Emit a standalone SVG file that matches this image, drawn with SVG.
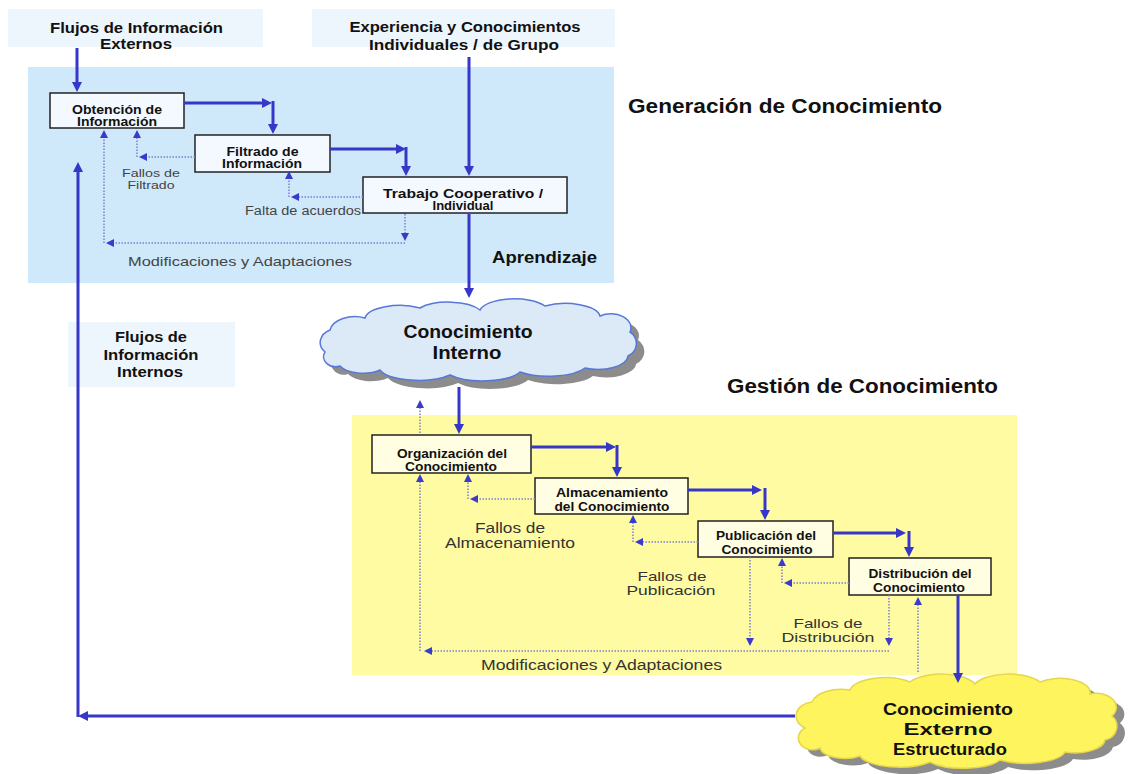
<svg xmlns="http://www.w3.org/2000/svg" width="1131" height="774" viewBox="0 0 1131 774">
<defs>
<style>
.t{font-family:"Liberation Sans",Arial,sans-serif;fill:#111}
.b{font-weight:bold}
.box{stroke:#222;stroke-width:1.5}
.bb{fill:#f4f9ff}
.yb{fill:#fffde2}
.hdr{fill:#eef6fd}
.sa{fill:none;stroke:#3636c8;stroke-width:3;marker-end:url(#ah)}
.da{fill:none;stroke:#7f7fd0;stroke-width:1.5;stroke-dasharray:1.5 1.5;marker-end:url(#dh)}
.g{fill:#444;font-family:"Liberation Sans",Arial,sans-serif}
.g2{fill:#333;font-family:"Liberation Sans",Arial,sans-serif}
</style>
<marker id="ah" viewBox="0 0 10 10" refX="4" refY="5" markerWidth="10" markerHeight="10" markerUnits="userSpaceOnUse" orient="auto"><path d="M0,0 L10,5 L0,10 z" fill="#3636c8"/></marker>
<marker id="dh" viewBox="0 0 8 8" refX="3" refY="4" markerWidth="8" markerHeight="8" markerUnits="userSpaceOnUse" orient="auto"><path d="M0,0 L8,4 L0,8 z" fill="#3a3acc"/></marker>
</defs>
<rect width="1131" height="774" fill="#fff"/>

<g id="regions">
<rect x="28" y="67" width="586" height="216" fill="#cfe9fa"/>
<rect x="352" y="415" width="665" height="260" fill="#fffba3"/>
</g>

<g id="hdr-externos">
<rect class="hdr" x="8" y="9" width="255" height="38"/>
<text class="t b" x="136.5" y="33" font-size="15" text-anchor="middle" textLength="173" lengthAdjust="spacingAndGlyphs">Flujos de Información</text>
<text class="t b" x="136" y="49" font-size="15" text-anchor="middle" textLength="72" lengthAdjust="spacingAndGlyphs">Externos</text>
</g>
<g id="hdr-experiencia">
<rect class="hdr" x="312" y="9" width="303" height="38"/>
<text class="t b" x="465" y="32" font-size="15" text-anchor="middle" textLength="231" lengthAdjust="spacingAndGlyphs">Experiencia y Conocimientos</text>
<text class="t b" x="464" y="50" font-size="15" text-anchor="middle" textLength="190" lengthAdjust="spacingAndGlyphs">Individuales / de Grupo</text>
</g>
<g id="hdr-internos">
<rect class="hdr" x="68" y="322" width="167" height="65"/>
<text class="t b" x="151" y="342" font-size="15" text-anchor="middle" textLength="72" lengthAdjust="spacingAndGlyphs">Flujos de</text>
<text class="t b" x="151" y="360" font-size="15" text-anchor="middle" textLength="95" lengthAdjust="spacingAndGlyphs">Información</text>
<text class="t b" x="150" y="377" font-size="15" text-anchor="middle" textLength="66" lengthAdjust="spacingAndGlyphs">Internos</text>
</g>

<g id="titles">
<text class="t b" x="628" y="113" font-size="20" textLength="314" lengthAdjust="spacingAndGlyphs">Generación de Conocimiento</text>
<text class="t b" x="492" y="263" font-size="17" textLength="105" lengthAdjust="spacingAndGlyphs">Aprendizaje</text>
<text class="t b" x="727" y="393" font-size="20" textLength="271" lengthAdjust="spacingAndGlyphs">Gestión de Conocimiento</text>
</g>

<g id="n-obtencion">
<rect class="box bb" x="50" y="93" width="134" height="35"/>
<text class="t b" x="117" y="114" font-size="12.5" text-anchor="middle" textLength="90" lengthAdjust="spacingAndGlyphs">Obtención de</text>
<text class="t b" x="117" y="126" font-size="12.5" text-anchor="middle" textLength="80" lengthAdjust="spacingAndGlyphs">Información</text>
</g>
<g id="n-filtrado">
<rect class="box bb" x="195" y="135" width="135" height="37"/>
<text class="t b" x="262.5" y="156" font-size="12.5" text-anchor="middle" textLength="72" lengthAdjust="spacingAndGlyphs">Filtrado de</text>
<text class="t b" x="262" y="168" font-size="12.5" text-anchor="middle" textLength="80" lengthAdjust="spacingAndGlyphs">Información</text>
</g>
<g id="n-trabajo">
<rect class="box bb" x="363" y="177" width="204" height="36"/>
<text class="t b" x="463" y="198" font-size="12.5" text-anchor="middle" textLength="160" lengthAdjust="spacingAndGlyphs">Trabajo Cooperativo /</text>
<text class="t b" x="463" y="210" font-size="12.5" text-anchor="middle" textLength="61" lengthAdjust="spacingAndGlyphs">Individual</text>
</g>

<g id="n-interno">
<path fill="#8c8c8c" transform="translate(8,8)" d="M325,352 A18,14 0 0 1 330,330 A25,16 0 0 1 365,318 A35,14 0 0 1 420,308 A35,14 0 0 1 480,310 A35,14 0 0 1 545,306 A35,14 0 0 1 600,316 A20,14 0 0 1 630,332 A15,14 0 0 1 628,356 A30,14 0 0 1 585,368 A40,14 0 0 1 520,372 A40,14 0 0 1 450,375 A40,14 0 0 1 380,370 A25,12 0 0 1 340,366 A12,10 0 0 1 325,352 Z"/>
<path fill="#dce9f6" stroke="#5878d8" stroke-width="1.5" d="M325,352 A18,14 0 0 1 330,330 A25,16 0 0 1 365,318 A35,14 0 0 1 420,308 A35,14 0 0 1 480,310 A35,14 0 0 1 545,306 A35,14 0 0 1 600,316 A20,14 0 0 1 630,332 A15,14 0 0 1 628,356 A30,14 0 0 1 585,368 A40,14 0 0 1 520,372 A40,14 0 0 1 450,375 A40,14 0 0 1 380,370 A25,12 0 0 1 340,366 A12,10 0 0 1 325,352 Z"/>
<text class="t b" x="468" y="338" font-size="18" text-anchor="middle" textLength="129" lengthAdjust="spacingAndGlyphs">Conocimiento</text>
<text class="t b" x="467" y="359" font-size="18" text-anchor="middle" textLength="69" lengthAdjust="spacingAndGlyphs">Interno</text>
</g>

<g id="n-organizacion">
<rect class="box yb" x="372" y="435" width="159" height="38"/>
<text class="t b" x="452" y="458" font-size="12.5" text-anchor="middle" textLength="110" lengthAdjust="spacingAndGlyphs">Organización del</text>
<text class="t b" x="451" y="471" font-size="12.5" text-anchor="middle" textLength="92" lengthAdjust="spacingAndGlyphs">Conocimiento</text>
</g>
<g id="n-almacenamiento">
<rect class="box yb" x="535" y="478" width="153" height="36"/>
<text class="t b" x="612" y="497" font-size="12.5" text-anchor="middle" textLength="112" lengthAdjust="spacingAndGlyphs">Almacenamiento</text>
<text class="t b" x="612" y="511" font-size="12.5" text-anchor="middle" textLength="115" lengthAdjust="spacingAndGlyphs">del Conocimiento</text>
</g>
<g id="n-publicacion">
<rect class="box yb" x="698" y="521" width="135" height="36"/>
<text class="t b" x="766" y="540" font-size="12.5" text-anchor="middle" textLength="100" lengthAdjust="spacingAndGlyphs">Publicación del</text>
<text class="t b" x="767" y="554" font-size="12.5" text-anchor="middle" textLength="91" lengthAdjust="spacingAndGlyphs">Conocimiento</text>
</g>
<g id="n-distribucion">
<rect class="box yb" x="849" y="558" width="142" height="37"/>
<text class="t b" x="920" y="578" font-size="12.5" text-anchor="middle" textLength="103" lengthAdjust="spacingAndGlyphs">Distribución del</text>
<text class="t b" x="919" y="592" font-size="12.5" text-anchor="middle" textLength="92" lengthAdjust="spacingAndGlyphs">Conocimiento</text>
</g>

<g id="n-externo">
<path fill="#8c8c8c" transform="translate(8,7)" d="M805,728 A18,14 0 0 1 812,702 A30,16 0 0 1 850,690 A35,14 0 0 1 910,682 A35,14 0 0 1 975,684 A35,14 0 0 1 1040,682 A30,14 0 0 1 1090,694 A20,14 0 0 1 1112,716 A15,14 0 0 1 1105,740 A30,14 0 0 1 1065,752 A40,14 0 0 1 1000,760 A40,14 0 0 1 930,762 A40,14 0 0 1 860,756 A25,12 0 0 1 820,748 A12,10 0 0 1 805,728 Z"/>
<path fill="#fdf45e" stroke="#e6d64a" stroke-width="1.5" d="M805,728 A18,14 0 0 1 812,702 A30,16 0 0 1 850,690 A35,14 0 0 1 910,682 A35,14 0 0 1 975,684 A35,14 0 0 1 1040,682 A30,14 0 0 1 1090,694 A20,14 0 0 1 1112,716 A15,14 0 0 1 1105,740 A30,14 0 0 1 1065,752 A40,14 0 0 1 1000,760 A40,14 0 0 1 930,762 A40,14 0 0 1 860,756 A25,12 0 0 1 820,748 A12,10 0 0 1 805,728 Z"/>
<text class="t b" x="948" y="715" font-size="17" text-anchor="middle" textLength="130" lengthAdjust="spacingAndGlyphs">Conocimiento</text>
<text class="t b" x="948" y="735" font-size="17" text-anchor="middle" textLength="89" lengthAdjust="spacingAndGlyphs">Externo</text>
<text class="t b" x="950" y="755" font-size="17" text-anchor="middle" textLength="114" lengthAdjust="spacingAndGlyphs">Estructurado</text>
</g>

<g id="labels">
<text class="g" x="151" y="177" font-size="11" text-anchor="middle" textLength="58" lengthAdjust="spacingAndGlyphs">Fallos de</text>
<text class="g" x="151" y="189" font-size="11" text-anchor="middle" textLength="47" lengthAdjust="spacingAndGlyphs">Filtrado</text>
<text class="g" x="245" y="215" font-size="12" textLength="116" lengthAdjust="spacingAndGlyphs">Falta de acuerdos</text>
<text class="g" x="128" y="266" font-size="13" textLength="224" lengthAdjust="spacingAndGlyphs">Modificaciones y Adaptaciones</text>
<text class="g2" x="510" y="533" font-size="14" text-anchor="middle" textLength="70" lengthAdjust="spacingAndGlyphs">Fallos de</text>
<text class="g2" x="510" y="548" font-size="14" text-anchor="middle" textLength="130" lengthAdjust="spacingAndGlyphs">Almacenamiento</text>
<text class="g2" x="672" y="581" font-size="13.5" text-anchor="middle" textLength="69" lengthAdjust="spacingAndGlyphs">Fallos de</text>
<text class="g2" x="671" y="595" font-size="13.5" text-anchor="middle" textLength="89" lengthAdjust="spacingAndGlyphs">Publicación</text>
<text class="g2" x="828" y="628" font-size="13.5" text-anchor="middle" textLength="69" lengthAdjust="spacingAndGlyphs">Fallos de</text>
<text class="g2" x="828" y="642" font-size="13.5" text-anchor="middle" textLength="93" lengthAdjust="spacingAndGlyphs">Distribución</text>
<text class="g2" x="481" y="670" font-size="14" textLength="241" lengthAdjust="spacingAndGlyphs">Modificaciones y Adaptaciones</text>
</g>

<g id="connectors">
<path class="sa" d="M77,48 V86"/>
<path class="sa" d="M469,57 V170"/>
<path class="sa" d="M184,103 H266"/>
<path class="sa" d="M273,101 V128"/>
<path class="sa" d="M330,149 H400"/>
<path class="sa" d="M406,147 V170"/>
<path class="sa" d="M469,214 V292"/>
<path class="sa" d="M459,387 V428"/>
<path class="sa" d="M531,447 H610"/>
<path class="sa" d="M617,445 V471"/>
<path class="sa" d="M688,490 H756"/>
<path class="sa" d="M765,488 V514"/>
<path class="sa" d="M833,533 H900"/>
<path class="sa" d="M909,531 V551"/>
<path class="sa" d="M958,595 V677"/>
<path class="sa" d="M795,716 H84"/>
<path class="sa" d="M78,717 V168"/>

<path class="da" d="M195,157 H144"/>
<path class="da" d="M137,157 V135"/>
<path class="da" d="M363,197 H296"/>
<path class="da" d="M289,197 V176"/>
<path class="da" d="M405,214 V236"/>
<path class="da" d="M405,243 H111"/>
<path class="da" d="M104,243 V135"/>

<path class="da" d="M535,499 H475"/>
<path class="da" d="M468,499 V479"/>
<path class="da" d="M698,542 H640"/>
<path class="da" d="M633,542 V520"/>
<path class="da" d="M849,583 H789"/>
<path class="da" d="M782,583 V563"/>
<path class="da" d="M750,557 V641"/>
<path class="da" d="M889,595 V641"/>
<path class="da" d="M889,651 H429"/>
<path class="da" d="M420,651 V479"/>
<path class="da" d="M420,433 V405"/>
<path class="da" d="M918,672 V602"/>
</g>
</svg>
